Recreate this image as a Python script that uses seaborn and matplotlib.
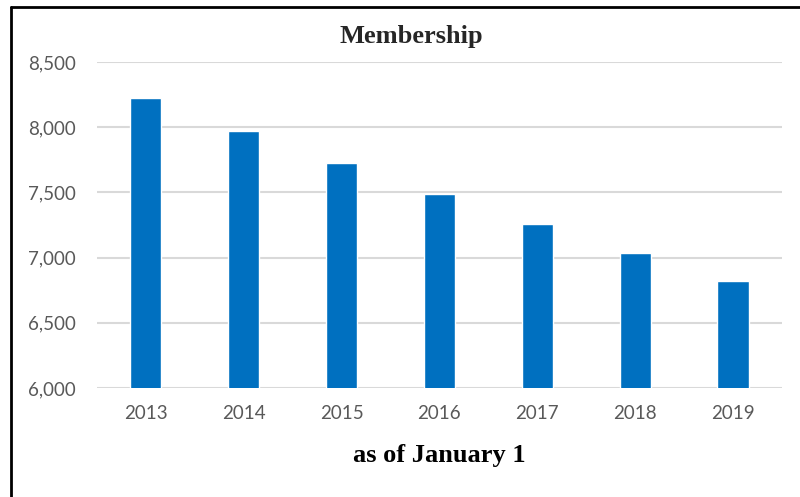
import pandas as pd
import matplotlib.pyplot as plt
import seaborn as sns
from matplotlib.lines import Line2D
from matplotlib.ticker import FuncFormatter

# Membership as of January 1
years = ['2013', '2014', '2015', '2016', '2017', '2018', '2019']
members = [8225, 7967, 7728, 7489, 7256, 7035, 6818]

df = pd.DataFrame({'year': years, 'members': members})

sns.set_style("white")
plt.rcParams['font.family'] = ['Lato', 'DejaVu Sans']

fig = plt.figure(figsize=(8, 4.97), dpi=100)
ax = fig.add_axes([0.121, 0.2193, 0.8565, 0.656])

sns.barplot(data=df, x='year', y='members', color='#0070C0',
            saturation=1, width=0.32, ax=ax, zorder=3)

ax.set_ylim(6000, 8500)
ax.set_yticks([6000, 6500, 7000, 7500, 8000, 8500])
ax.yaxis.set_major_formatter(FuncFormatter(lambda v, p: f"{int(v):,}"))
ax.grid(axis='y', color='#D9D9D9', linewidth=1.5, zorder=0)
ax.set_axisbelow(True)
sns.despine(ax=ax, left=True, bottom=True)
ax.tick_params(axis='both', length=0, labelsize=13.5, labelcolor='#595959')
ax.tick_params(axis='y', pad=15)
ax.tick_params(axis='x', pad=12)

ax.set_ylabel('')
ax.set_xlabel('as of January 1', family='Liberation Serif', fontweight='bold',
              fontsize=19, color='black', labelpad=16)

fig.text(411 / 800, 1 - 37 / 497, 'Membership', family='Liberation Serif',
         fontweight='bold', fontsize=19, ha='center', va='center')

# chart frame (top and left edges visible)
fig.add_artist(Line2D([11 / 800, 1], [1 - 7 / 497, 1 - 7 / 497],
                      transform=fig.transFigure, color='black', linewidth=2))
fig.add_artist(Line2D([11 / 800, 11 / 800], [0, 1 - 7 / 497],
                      transform=fig.transFigure, color='black', linewidth=2))

fig.savefig('out.png', dpi=100)
